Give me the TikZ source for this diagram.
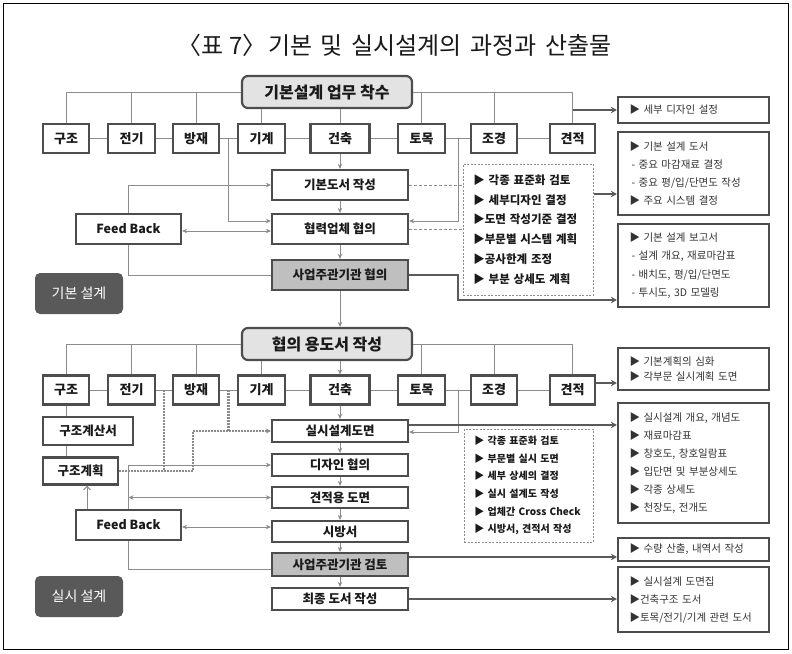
\documentclass[tikz,border=0pt]{standalone}
\usepackage{fontspec}
\setmainfont{Noto Sans CJK KR}
\usetikzlibrary{arrows.meta,calc}
\definecolor{bdr}{HTML}{4D4D4D}
\definecolor{lnc}{HTML}{8C8C8C}
\definecolor{tk}{HTML}{5A5A5A}
\definecolor{dk}{HTML}{595959}
\definecolor{lg}{HTML}{E3E3E3}
\definecolor{mg}{HTML}{BFBFBF}
\definecolor{txt}{HTML}{1A1A1A}
\definecolor{rtxt}{HTML}{333333}
\definecolor{dotc}{HTML}{8A8A8A}
\newcommand{\wsp}{\hspace{0.36em}}
\begin{document}
\begin{tikzpicture}[x=1pt,y=-1pt,
  every node/.style={inner sep=0pt, text=txt},
  ln/.style={draw=lnc, line width=1pt},
  arr/.style={ln, -{Stealth[length=5pt,width=4.5pt]}},
  darr/.style={ln, {Stealth[length=5pt,width=4.5pt]}-{Stealth[length=5pt,width=4.5pt]}},
  oarr/.style={ln, -{Straight Barb[length=3.5pt,width=7pt]}},
  tarr/.style={draw=tk, line width=2.2pt, -{Stealth[length=6pt,width=6.5pt]}},
  dsh/.style={draw=lnc, line width=0.8pt, dash pattern=on 3pt off 2pt},
  dotl/.style={draw=dotc, line width=2.2pt, dash pattern=on 1.6pt off 1.4pt},
  dotarr/.style={dotl, -{Stealth[length=5pt,width=5pt]}},
  cat/.style={draw=bdr, line width=2.2pt, fill=white, minimum height=29pt, font=\fontsize{13}{15}\selectfont\bfseries},
  headbox/.style={draw=bdr, line width=2.2pt, fill=lg, rounded corners=6pt, minimum width=170pt, minimum height=32pt, font=\fontsize{16}{18}\selectfont\bfseries},
  mid/.style={draw=bdr, line width=2.2pt, fill=white, minimum width=136pt, font=\fontsize{12.5}{14}\selectfont\bfseries},
  rbox/.style={draw=bdr, line width=2.2pt, fill=white, text width=128pt, inner xsep=11.5pt, inner ysep=0pt, align=left, text=rtxt},
  dbox/.style={draw=lnc, line width=0.8pt, dash pattern=on 2pt off 1.5pt, fill=white, inner xsep=10pt, align=left, anchor=west},
  lbl/.style={fill=dk, rounded corners=5pt, minimum width=88pt, minimum height=41pt, text=white, font=\fontsize{14}{16}\selectfont}
]
\useasboundingbox (0,0) rectangle (792,653);
\draw[line width=1pt, black] (3.5,3.5) rectangle (788.5,649.5);

\node[font=\fontsize{24}{26}\selectfont] (title) at (396,45) {\kern-0.1em〈표 7〉\kern-0.3em\wsp 기본\wsp 및\wsp 실시설계의\wsp 과정과\wsp 산출물};

% ---------------- Section 1 ----------------
\node[headbox] (st1) at (327,92) {기본설계 업무 착수};
\node[cat, minimum width=46pt] (a1) at (66,138.5) {구조};
\node[cat, minimum width=47pt] (b1) at (131.5,138.5) {전기};
\node[cat, minimum width=46pt] (c1) at (196,138.5) {방재};
\node[cat, minimum width=47pt] (d1) at (261.5,138.5) {기계};
\node[cat, minimum width=59pt] (e1) at (340,138.5) {건축};
\node[cat, minimum width=47pt] (f1) at (421.5,138.5) {토목};
\node[cat, minimum width=46pt] (g1) at (494,138.5) {조경};
\node[cat, minimum width=45pt] (h1) at (572.5,138.5) {견적};

\draw[ln] (a1)--(b1) (b1)--(c1) (c1)--(d1) (d1)--(e1) (e1)--(f1) (f1)--(g1) (g1)--(h1);
\draw[ln] (a1.north) |- (st1.west) (b1.north) |- (st1.west) (c1.north) |- (st1.west);
\draw[ln] (f1.north) |- (st1.east) (g1.north) |- (st1.east) (h1.north) |- (st1.east);
\draw[ln] (d1.north) -- (d1.north |- st1.south);
\draw[ln] (e1.north) -- (e1.north |- st1.south);
\coordinate (j1) at ($(c1.east)!0.5!(d1.west)$);
\coordinate (j2) at ($(f1.east)!0.5!(g1.west)$);

\node[mid, minimum height=30pt] (m1) at (340,185) {기본도서 작성};
\node[mid, minimum height=30pt] (m2) at (340,229) {협력업체 협의};
\node[mid, minimum height=30pt, fill=mg] (m3) at (340,275) {사업주관기관 협의};
\draw[arr] (e1) -- (m1);
\draw[arr] (m1) -- (m2);
\draw[arr] (m2) -- (m3);

\node[cat, minimum width=105pt, minimum height=30pt, font=\fontsize{12.5}{14}\selectfont\bfseries] (fb1) at (128.5,229) {Feed Back};
\draw[arr] (fb1.north) |- (m1.west);
\draw[darr] ([yshift=-2pt]fb1.east) -- ([yshift=-2pt]m2.west);
\draw[arr] (j1) |- ([yshift=8pt]m2.west);
\draw[ln] (fb1.south) |- (m3.west);
\draw[arr] (j2) |- ([yshift=8pt]m2.east);

\node[dbox, text width=110pt, minimum height=131pt, font=\fontsize{11.5}{19.8}\selectfont\bfseries] (db1) at (463,229.5)
  {▶ 각종 표준화 검토\\▶ 세부디자인 결정\\▶도면 작성기준 결정\\▶부문별 시스템 계획\\▶공사한계 조정\\▶ 부분 상세도 계획};
\draw[dsh] (m1.east) -- (m1.east -| db1.west);
\draw[dsh] (m2.east) -- (m2.east -| db1.west);

\node[rbox, minimum height=26pt, font=\fontsize{10.5}{18.3}\selectfont] (r1) at (693.5,110) {▶ 세부 디자인 설정};
\node[rbox, minimum height=83pt, font=\fontsize{10.5}{18.3}\selectfont] (r2) at (693.5,173.5)
  {▶ 기본 설계 도서\\\hspace*{2pt}- 중요 마감재료 결정\\\hspace*{2pt}- 중요 평/입/단면도 작성\\▶ 주요 시스템 결정};
\node[rbox, minimum height=83pt, font=\fontsize{10.5}{18.3}\selectfont] (r3) at (693.5,265.5)
  {▶ 기본 설계 보고서\\\hspace*{2pt}- 설계 개요, 재료마감표\\\hspace*{2pt}- 배치도, 평/입/단면도\\\hspace*{2pt}- 투시도, 3D 모델링};
\draw[tarr] (h1.north |- r1.west) -- (r1.west);
\draw[tarr] ([yshift=35.5pt]db1.east) -- ([yshift=35.5pt]db1.east -| r2.west);
\draw[tarr] (m3.east) -- (j2 |- m3.east) |- ([yshift=-34.5pt]r3.west);

\node[lbl] (lb1) at (79,293.5) {기본 설계};

% ---------------- Section 2 ----------------
\node[headbox] (st2) at (327,344) {협의 용도서 작성};
\draw[arr] (m3.south) -- (m3.south |- st2.north);
\node[cat, minimum width=46pt] (a2) at (66,390) {구조};
\node[cat, minimum width=47pt] (b2) at (131.5,390) {전기};
\node[cat, minimum width=46pt] (c2) at (196,390) {방재};
\node[cat, minimum width=47pt] (d2) at (261.5,390) {기계};
\node[cat, minimum width=59pt] (e2) at (340,390) {건축};
\node[cat, minimum width=47pt] (f2) at (421.5,390) {토목};
\node[cat, minimum width=46pt] (g2) at (494,390) {조경};
\node[cat, minimum width=45pt] (h2) at (572.5,390) {견적};

\draw[ln] (a2)--(b2) (b2)--(c2) (c2)--(d2) (d2)--(e2) (e2)--(f2) (f2)--(g2) (g2)--(h2);
\draw[ln] (a2.north) |- (st2.west) (b2.north) |- (st2.west) (c2.north) |- (st2.west);
\draw[ln] (f2.north) |- (st2.east) (g2.north) |- (st2.east) (h2.north) |- (st2.east);
\draw[ln] (d2.north) -- (d2.north |- st2.south);
\draw[arr] (e2.north |- st2.south) -- (e2.north);
\coordinate (j3) at ($(b2.east)!0.5!(c2.west)$);
\coordinate (j4) at ($(c2.east)!0.5!(d2.west)$);
\coordinate (j5) at ($(f2.east)!0.5!(g2.west)$);

\node[cat, minimum width=90pt, minimum height=28pt, font=\fontsize{12.5}{14}\selectfont\bfseries] (s1) at (88,431) {구조계산서};
\node[cat, minimum width=75pt, minimum height=27pt, font=\fontsize{12.5}{14}\selectfont\bfseries] (s2) at (80.5,471) {구조계획};
\draw[ln] (a2.south) -- (a2.south |- s1.north);
\draw[ln] (a2.south |- s1.south) -- (a2.south |- s2.north);

\node[mid, minimum height=22pt] (n1) at (340,431) {실시설계도면};
\node[mid, minimum height=22pt] (n2) at (340,465) {디자인 협의};
\node[mid, minimum height=21pt] (n3) at (340,497.5) {견적용 도면};
\node[mid, minimum height=21pt] (n4) at (340,531.5) {시방서};
\node[mid, minimum height=23pt, fill=mg] (n5) at (340,564.5) {사업주관기관 검토};
\node[mid, minimum height=22pt] (n6) at (340,599) {최종 도서 작성};
\draw[arr] (e2) -- (n1);
\draw[arr] (n1) -- (n2);
\draw[arr] (n2) -- (n3);
\draw[arr] (n3) -- (n4);
\draw[arr] (n4) -- (n5);
\draw[arr] (n5) -- (n6);

\node[cat, minimum width=105pt, minimum height=30pt, font=\fontsize{12.5}{14}\selectfont\bfseries] (fb2) at (128.5,525) {Feed Back};
\draw[oarr] ([xshift=-41.5pt]fb2.north) -- ([xshift=-41.5pt]fb2.north |- s2.south);
\draw[arr] (fb2.north) |- (n2.west);
\draw[darr] (fb2.north |- n3.west) -- (n3.west);
\draw[darr] ([yshift=-2pt]fb2.east) -- ([yshift=-2pt]fb2.east -| n4.west);
\draw[ln] (fb2.south) |- ([yshift=-4.5pt]n5.west);

\draw[dotl] (j3) -- (j3 |- s2.east);
\draw[dotl] (j4) -- (j4 |- n1.west);
\draw[dotarr] (s2.east) -| ([xshift=-78pt]n1.west) -- (n1.west);

\node[dbox, text width=109pt, minimum height=113pt, font=\fontsize{10}{17.6}\selectfont\bfseries] (db2) at (464,485.5)
  {▶ 각종 표준화 검토\\▶ 부문별 실시 도면\\▶ 세부 상세의 결정\\▶ 실시 설계도 작성\\▶ 업체간 Cross Check\\▶ 시방서, 견적서 작성};

\node[rbox, minimum height=42pt, font=\fontsize{10.5}{15}\selectfont] (r4) at (693.5,369)
  {▶ 기본계획의 심화\\▶ 각부문 실시계획 도면};
\node[rbox, minimum height=120pt, font=\fontsize{10.5}{18}\selectfont] (r5) at (693.5,463)
  {▶ 실시설계 개요, 개념도\\▶ 재료마감표\\▶ 창호도, 창호일람표\\▶ 입단면 및 부분상세도\\▶ 각종 상세도\\▶ 천장도, 전개도};
\node[rbox, minimum height=23pt, font=\fontsize{10.5}{18}\selectfont] (r6) at (693.5,549.5)
  {▶ 수량 산출, 내역서 작성};
\node[rbox, minimum height=65pt, font=\fontsize{10.5}{18}\selectfont] (r7) at (693.5,599.5)
  {▶ 실시설계 도면집\\▶건축구조 도서\\▶토목/전기/기계 관련 도서};

\draw[arr] (j5) |- ([yshift=-1pt]n1.east);
\draw[tarr] ([yshift=6pt]n1.east) -- ([yshift=6pt]n1.east -| r5.west);
\draw[tarr] ([yshift=7pt]h2.east) -- ([yshift=7pt]h2.east -| r4.west);
\draw[tarr] ([yshift=7.5pt]n5.east) -- ([yshift=7.5pt]n5.east -| r6.west);
\draw[tarr] (n6.east) -- (n6.east -| r7.west);

\node[lbl] (lb2) at (79,596.5) {실시 설계};
\end{tikzpicture}
\end{document}
